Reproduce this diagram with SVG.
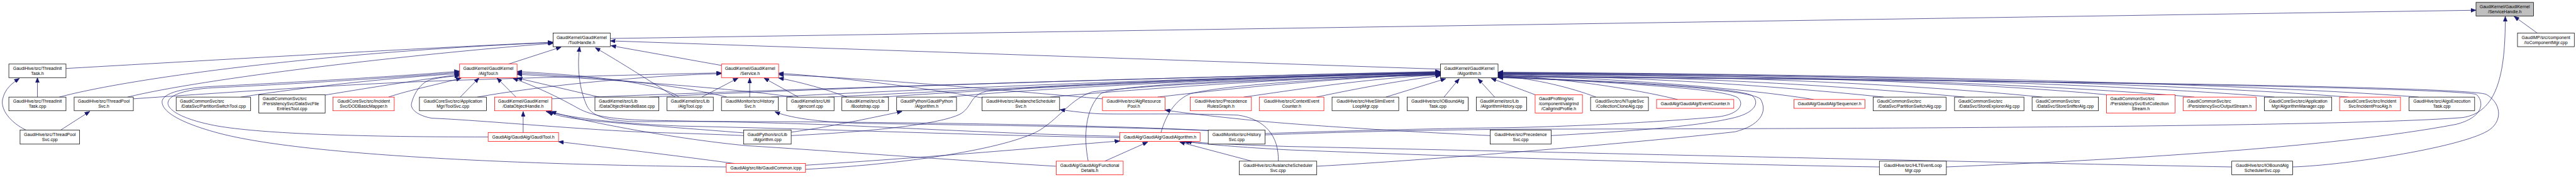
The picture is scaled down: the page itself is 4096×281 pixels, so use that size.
<svg xmlns="http://www.w3.org/2000/svg" width="4096" height="281" viewBox="0 0 4096 281">
<defs>
<marker id="ah" markerWidth="15" markerHeight="12" refX="15" refY="6" orient="auto" markerUnits="userSpaceOnUse"><path d="M0,0 L15,6 L0,12 z" fill="#191970" stroke="#191970" stroke-width="1"/></marker>
<style>
.node rect{fill:#fff;stroke:#000;stroke-width:1.4}
.node.red rect{stroke:#f00}
.node.root rect{fill:#bfbfbf}
text{font-family:"Liberation Sans",Arial,Helvetica,sans-serif;font-size:13px;fill:#000}
.c{text-anchor:middle}
#edges path{fill:none;stroke:#191970;stroke-width:1.3;marker-end:url(#ah)}
</style>
</defs>
<rect width="4096" height="281" fill="#fff"/>
<g transform="scale(0.54087)">
<g id="edges">
<path d="M1794,113 L7279,30"/>
<path d="M7459,97 L7391,48"/>
<path d="M3719,396 C4000,385 4300,380 4500,379 C5500,378 6900,372 7240,345 C7340,330 7366,220 7365,48"/>
<path d="M194,201 C700,172 1300,138 1626,124"/>
<path d="M174,285 C400,225 1000,150 1626,125"/>
<path d="M375,285 C600,230 1200,160 1626,127"/>
<path d="M1495,188 L1650,138"/>
<path d="M4235,203 L1794,120"/>
<path d="M2121,192 L1796,134"/>
<path d="M3552,383 C3100,360 2200,355 1900,357 C1780,358 1740,340 1725,310 C1698,250 1698,180 1704,137"/>
<path d="M1985,285 C1930,250 1820,180 1750,140"/>
<path d="M708,285 C900,255 1150,228 1351,216"/>
<path d="M956,279 C1100,255 1250,232 1351,219"/>
<path d="M1142,285 C1200,265 1300,245 1356,229"/>
<path d="M1353,285 L1408,229"/>
<path d="M1517,285 L1461,229"/>
<path d="M1435,402 C1000,402 760,390 640,370 C530,350 490,320 494,300 C498,275 560,260 640,257 C900,245 1200,225 1351,212"/>
<path d="M2135,490 C1600,485 900,460 640,390 C510,355 472,320 477,295 C485,268 560,256 640,253 C900,240 1200,222 1351,209"/>
<path d="M1996,285 C1950,250 1800,225 1520,210"/>
<path d="M2137,285 C2000,250 1800,230 1520,214"/>
<path d="M2331,285 C2200,265 1900,240 1520,218"/>
<path d="M1762,285 L1520,229"/>
<path d="M3292,400 C3000,395 2600,372 2400,365 C2200,358 2000,355 1900,353 C1800,350 1740,340 1700,318 C1650,290 1580,255 1508,230"/>
<path d="M2186,398 C2050,392 1950,390 1900,388 C1700,380 1400,352 1270,347 C1228,340 1205,320 1210,303 C1215,280 1235,240 1270,233 C1300,226 1330,224 1351,223"/>
<path d="M392,290 C800,262 1100,243 1362,235 C1700,224 2000,216 2121,214"/>
<path d="M1403,285 C1600,250 1900,222 2121,216"/>
<path d="M2063,285 L2170,229"/>
<path d="M2204,285 L2204,229"/>
<path d="M2347,285 L2246,229"/>
<path d="M2490,285 C2430,262 2350,240 2289,229"/>
<path d="M2887,287 C2700,255 2450,225 2289,215"/>
<path d="M3241,290 C3000,270 2600,232 2289,219"/>
<path d="M1622,290 C2200,265 3500,225 4235,210"/>
<path d="M1908,285 C2500,255 3500,225 4235,211"/>
<path d="M2267,285 C2700,262 3600,225 4235,212"/>
<path d="M2434,285 C2900,262 3600,225 4235,213"/>
<path d="M2594,285 C2900,262 3700,225 4235,214"/>
<path d="M2789,285 C3000,262 3700,225 4235,215"/>
<path d="M3087,285 C3300,265 3800,228 4235,216"/>
<path d="M3403,285 C3600,262 3900,230 4235,217"/>
<path d="M3656,285 C3800,265 4000,232 4235,219"/>
<path d="M3870,285 C3950,268 4100,238 4235,222"/>
<path d="M3413,389 C3430,330 3460,290 3500,275 C3600,250 3900,230 4235,218"/>
<path d="M3199,473 C3185,400 3190,320 3236,275 C3280,250 3600,235 4235,217"/>
<path d="M2368,497 C2700,480 2980,430 3060,380 C3120,340 3150,290 3210,270 C3400,245 3900,228 4235,220"/>
<path d="M2326,398 C2600,385 2780,360 2826,333 C2860,310 2850,280 2900,268 C3200,240 3800,225 4235,214"/>
<path d="M2326,388 C2420,375 2520,355 2652,327"/>
<path d="M4074,285 L4250,231"/>
<path d="M4245,285 L4290,231"/>
<path d="M4394,285 L4345,231"/>
<path d="M4513,278 L4384,230"/>
<path d="M4692,285 C4620,258 4520,232 4404,222"/>
<path d="M4932,292 C4800,260 4600,230 4404,221"/>
<path d="M5332,292 C5100,255 4700,228 4404,220"/>
<path d="M5538,285 C5200,250 4800,225 4404,219"/>
<path d="M5776,285 C5400,250 4900,222 4404,218"/>
<path d="M6004,285 C5600,245 5000,220 4404,217"/>
<path d="M6192,278 C5800,240 5100,220 4404,216"/>
<path d="M6451,285 C6000,245 5200,220 4404,215"/>
<path d="M6686,285 C6200,245 5300,218 4404,214"/>
<path d="M6904,285 C6400,245 5400,218 4404,213"/>
<path d="M7110,285 C6600,245 5500,218 4404,212"/>
<path d="M5722,490 C6200,470 6850,435 7220,365 C7300,345 7305,300 7280,277 C7200,255 5500,230 4404,224"/>
<path d="M6740,490 C6900,485 7250,430 7320,380 C7360,350 7350,300 7309,277 C7250,250 5500,232 4404,226"/>
<path d="M4560,398 C4800,385 5000,370 5100,345 C5160,330 5175,300 5150,280 C5100,255 4700,235 4404,227"/>
<path d="M3871,488 C4200,470 4800,420 5100,387 C5170,370 5200,330 5175,290 C5140,262 4800,240 4404,228"/>
<path d="M3719,392 C4000,382 4300,376 4420,375 C4700,370 4950,352 5050,343 C5115,335 5128,305 5110,288 C5080,262 4800,245 4404,225"/>
<path d="M3248,473 L3374,417"/>
<path d="M3680,473 L3468,417"/>
<path d="M5525,490 C5000,482 4300,460 3790,440 C3600,430 3520,420 3488,416"/>
<path d="M6561,490 C6000,480 4500,445 3790,430 C3600,424 3520,418 3480,416"/>
<path d="M2368,485 C2600,470 3000,440 3150,425 C3220,420 3260,416 3292,414"/>
<path d="M1538,389 L1538,327"/>
<path d="M2159,480 C2050,465 1850,440 1642,416"/>
<path d="M2186,390 C2000,375 1750,358 1690,348 C1650,342 1625,336 1612,327"/>
<path d="M3105,488 C2800,470 2400,440 2200,428 C2000,410 1700,355 1620,327"/>
<path d="M3292,404 C2900,398 2400,378 2000,370 C1800,362 1680,345 1605,327"/>
<path d="M3758,473 C3760,400 3720,350 3640,338 C3500,332 3300,336 3232,334 C3190,332 3150,326 3116,322"/>
<path d="M4381,398 C4100,385 3800,365 3700,355 C3550,340 3470,330 3425,323"/>
<path d="M3552,383 C3300,372 2700,365 2530,362 C2400,358 2320,345 2278,328"/>
<path d="M178,382 L264,327"/>
<path d="M77,382 C30,360 0,320 8,290 C15,260 35,245 57,230"/>
<path d="M110,285 L110,228"/>
</g>
<g id="n_sh" class="node root"><rect x="7279" y="7" width="169" height="40"/><text class="c" x="7363.5" y="24">GaudiKernel/GaudiKernel</text><text class="c" x="7363.5" y="39">/ServiceHandle.h</text></g>
<g id="n_th" class="node"><rect x="1626" y="97" width="168" height="40"/><text class="c" x="1710" y="114">GaudiKernel/GaudiKernel</text><text class="c" x="1710" y="129">/ToolHandle.h</text></g>
<g id="n_ioc" class="node"><rect x="7401" y="97" width="167" height="40"/><text class="c" x="7484.5" y="114">GaudiMP/src/component</text><text class="c" x="7484.5" y="129">/IoComponentMgr.cpp</text></g>
<g id="n_titH" class="node"><rect x="26" y="188" width="168" height="40"/><text class="c" x="110" y="205">GaudiHive/src/ThreadInit</text><text class="c" x="110" y="220">Task.h</text></g>
<g id="n_atH" class="node red"><rect x="1351" y="188" width="169" height="40"/><text class="c" x="1435.5" y="205">GaudiKernel/GaudiKernel</text><text class="c" x="1435.5" y="220">/AlgTool.h</text></g>
<g id="n_svH" class="node red"><rect x="2121" y="188" width="168" height="40"/><text class="c" x="2205" y="205">GaudiKernel/GaudiKernel</text><text class="c" x="2205" y="220">/Service.h</text></g>
<g id="n_alH" class="node"><rect x="4235" y="188" width="169" height="40"/><text class="c" x="4319.5" y="205">GaudiKernel/GaudiKernel</text><text class="c" x="4319.5" y="220">/Algorithm.h</text></g>
<g id="n_titC" class="node"><rect x="26" y="285" width="168" height="40"/><text class="c" x="110" y="302">GaudiHive/src/ThreadInit</text><text class="c" x="110" y="317">Task.cpp</text></g>
<g id="n_tpsH" class="node"><rect x="218" y="285" width="174" height="40"/><text class="c" x="305" y="302">GaudiHive/src/ThreadPool</text><text class="c" x="305" y="317">Svc.h</text></g>
<g id="n_pst" class="node"><rect x="518" y="285" width="219" height="40"/><text x="529" y="302">GaudiCommonSvc/src</text><text class="c" x="627.5" y="317">/DataSvc/PartitionSwitchTool.cpp</text></g>
<g id="n_dsfe" class="node"><rect x="761" y="278" width="195" height="54"/><text x="772" y="294.5">GaudiCommonSvc/src</text><text x="772" y="309.5">/PersistencySvc/DataSvcFile</text><text class="c" x="858.5" y="324.5">EntriesTool.cpp</text></g>
<g id="n_dod" class="node red"><rect x="979" y="285" width="180" height="40"/><text class="c" x="1069" y="302">GaudiCoreSvc/src/Incident</text><text class="c" x="1069" y="317">Svc/DODBasicMapper.h</text></g>
<g id="n_tsvc" class="node"><rect x="1233" y="285" width="197" height="40"/><text class="c" x="1331.5" y="302">GaudiCoreSvc/src/Application</text><text class="c" x="1331.5" y="317">Mgr/ToolSvc.cpp</text></g>
<g id="n_doh" class="node red"><rect x="1454" y="285" width="168" height="40"/><text class="c" x="1538" y="302">GaudiKernel/GaudiKernel</text><text class="c" x="1538" y="317">/DataObjectHandle.h</text></g>
<g id="n_dohb" class="node"><rect x="1749" y="285" width="188" height="40"/><text x="1760" y="302">GaudiKernel/src/Lib</text><text class="c" x="1843" y="317">/DataObjectHandleBase.cpp</text></g>
<g id="n_atC" class="node"><rect x="1961" y="285" width="136" height="40"/><text class="c" x="2029" y="302">GaudiKernel/src/Lib</text><text class="c" x="2029" y="317">/AlgTool.cpp</text></g>
<g id="n_hsH" class="node"><rect x="2121" y="285" width="167" height="40"/><text class="c" x="2204.5" y="302">GaudiMonitor/src/History</text><text class="c" x="2204.5" y="317">Svc.h</text></g>
<g id="n_gen" class="node"><rect x="2313" y="285" width="139" height="40"/><text class="c" x="2382.5" y="302">GaudiKernel/src/Util</text><text class="c" x="2382.5" y="317">/genconf.cpp</text></g>
<g id="n_boot" class="node"><rect x="2475" y="285" width="137" height="40"/><text class="c" x="2543.5" y="302">GaudiKernel/src/Lib</text><text class="c" x="2543.5" y="317">/Bootstrap.cpp</text></g>
<g id="n_gpaH" class="node"><rect x="2636" y="285" width="176" height="40"/><text class="c" x="2724" y="302">GaudiPython/GaudiPython</text><text class="c" x="2724" y="317">/Algorithm.h</text></g>
<g id="n_asH" class="node"><rect x="2887" y="285" width="228" height="40"/><text class="c" x="3001" y="302">GaudiHive/src/AvalancheScheduler</text><text class="c" x="3001" y="317">Svc.h</text></g>
<g id="n_arp" class="node red"><rect x="3241" y="285" width="184" height="40"/><text class="c" x="3333" y="302">GaudiHive/src/AlgResource</text><text class="c" x="3333" y="317">Pool.h</text></g>
<g id="n_prg" class="node red"><rect x="3499" y="285" width="180" height="40"/><text class="c" x="3589" y="302">GaudiHive/src/Precedence</text><text class="c" x="3589" y="317">RulesGraph.h</text></g>
<g id="n_cec" class="node red"><rect x="3702" y="285" width="190" height="40"/><text class="c" x="3797" y="302">GaudiHive/src/ContextEvent</text><text class="c" x="3797" y="317">Counter.h</text></g>
<g id="n_hsl" class="node"><rect x="3916" y="285" width="196" height="40"/><text class="c" x="4014" y="302">GaudiHive/src/HiveSlimEvent</text><text class="c" x="4014" y="317">LoopMgr.cpp</text></g>
<g id="n_iobt" class="node"><rect x="4137" y="285" width="179" height="40"/><text class="c" x="4226.5" y="302">GaudiHive/src/IOBoundAlg</text><text class="c" x="4226.5" y="317">Task.cpp</text></g>
<g id="n_ahc" class="node"><rect x="4340" y="285" width="148" height="40"/><text x="4351" y="302">GaudiKernel/src/Lib</text><text class="c" x="4414" y="317">/AlgorithmHistory.cpp</text></g>
<g id="n_cgp" class="node red"><rect x="4513" y="278" width="139" height="54"/><text x="4524" y="294.5">GaudiProfiling/src</text><text x="4524" y="309.5">/component/valgrind</text><text class="c" x="4582.5" y="324.5">/CallgrindProfile.h</text></g>
<g id="n_cca" class="node"><rect x="4676" y="285" width="170" height="40"/><text class="c" x="4761" y="302">GaudiSvc/src/NTupleSvc</text><text class="c" x="4761" y="317">/CollectionCloneAlg.cpp</text></g>
<g id="n_evc" class="node red"><rect x="4870" y="292" width="227" height="26"/><text class="c" x="4983.5" y="309.6">GaudiAlg/GaudiAlg/EventCounter.h</text></g>
<g id="n_seq" class="node red"><rect x="5274" y="292" width="209" height="26"/><text class="c" x="5378.5" y="309.6">GaudiAlg/GaudiAlg/Sequencer.h</text></g>
<g id="n_psa" class="node"><rect x="5507" y="285" width="214" height="40"/><text x="5518" y="302">GaudiCommonSvc/src</text><text class="c" x="5614" y="317">/DataSvc/PartitionSwitchAlg.cpp</text></g>
<g id="n_sea" class="node"><rect x="5746" y="285" width="204" height="40"/><text x="5757" y="302">GaudiCommonSvc/src</text><text class="c" x="5848" y="317">/DataSvc/StoreExplorerAlg.cpp</text></g>
<g id="n_ssa" class="node"><rect x="5974" y="285" width="195" height="40"/><text x="5985" y="302">GaudiCommonSvc/src</text><text class="c" x="6071.5" y="317">/DataSvc/StoreSnifferAlg.cpp</text></g>
<g id="n_ecs" class="node red"><rect x="6193" y="278" width="201" height="54"/><text x="6204" y="294.5">GaudiCommonSvc/src</text><text x="6204" y="309.5">/PersistencySvc/EvtCollection</text><text class="c" x="6293.5" y="324.5">Stream.h</text></g>
<g id="n_os" class="node red"><rect x="6418" y="285" width="215" height="40"/><text x="6429" y="302">GaudiCommonSvc/src</text><text class="c" x="6525.5" y="317">/PersistencySvc/OutputStream.h</text></g>
<g id="n_am" class="node"><rect x="6657" y="285" width="198" height="40"/><text class="c" x="6756" y="302">GaudiCoreSvc/src/Application</text><text class="c" x="6756" y="317">Mgr/AlgorithmManager.cpp</text></g>
<g id="n_ipa" class="node red"><rect x="6878" y="285" width="179" height="40"/><text class="c" x="6967.5" y="302">GaudiCoreSvc/src/Incident</text><text class="c" x="6967.5" y="317">Svc/IncidentProcAlg.h</text></g>
<g id="n_aet" class="node"><rect x="7082" y="285" width="193" height="40"/><text class="c" x="7178.5" y="302">GaudiHive/src/AlgoExecution</text><text class="c" x="7178.5" y="317">Task.cpp</text></g>
<g id="n_tpsC" class="node"><rect x="59" y="382" width="175" height="41"/><text class="c" x="146.5" y="399">GaudiHive/src/ThreadPool</text><text class="c" x="146.5" y="414">Svc.cpp</text></g>
<g id="n_gtH" class="node red"><rect x="1435" y="389" width="207" height="26"/><text class="c" x="1538.5" y="406.6">GaudiAlg/GaudiAlg/GaudiTool.h</text></g>
<g id="n_gpaC" class="node"><rect x="2186" y="382" width="140" height="41"/><text class="c" x="2256" y="399">GaudiPython/src/Lib</text><text class="c" x="2256" y="414">/Algorithm.cpp</text></g>
<g id="n_gaH" class="node red"><rect x="3292" y="389" width="236" height="26"/><text class="c" x="3410" y="406.6">GaudiAlg/GaudiAlg/GaudiAlgorithm.h</text></g>
<g id="n_hsC" class="node"><rect x="3552" y="382" width="167" height="41"/><text class="c" x="3635.5" y="399">GaudiMonitor/src/History</text><text class="c" x="3635.5" y="414">Svc.cpp</text></g>
<g id="n_psC" class="node"><rect x="4381" y="382" width="179" height="41"/><text class="c" x="4470.5" y="399">GaudiHive/src/Precedence</text><text class="c" x="4470.5" y="414">Svc.cpp</text></g>
<g id="n_gci" class="node red"><rect x="2135" y="480" width="233" height="26"/><text class="c" x="2251.5" y="497.6">GaudiAlg/src/lib/GaudiCommon.icpp</text></g>
<g id="n_fd" class="node red"><rect x="3105" y="473" width="197" height="40"/><text class="c" x="3203.5" y="490">GaudiAlg/GaudiAlg/Functional</text><text class="c" x="3203.5" y="505">Details.h</text></g>
<g id="n_asC" class="node"><rect x="3643" y="473" width="228" height="40"/><text class="c" x="3757" y="490">GaudiHive/src/AvalancheScheduler</text><text class="c" x="3757" y="505">Svc.cpp</text></g>
<g id="n_hlt" class="node"><rect x="5525" y="473" width="197" height="40"/><text class="c" x="5623.5" y="490">GaudiHive/src/HLTEventLoop</text><text class="c" x="5623.5" y="505">Mgr.cpp</text></g>
<g id="n_iobs" class="node"><rect x="6561" y="473" width="179" height="40"/><text class="c" x="6650.5" y="490">GaudiHive/src/IOBoundAlg</text><text class="c" x="6650.5" y="505">SchedulerSvc.cpp</text></g>
</g>
</svg>
